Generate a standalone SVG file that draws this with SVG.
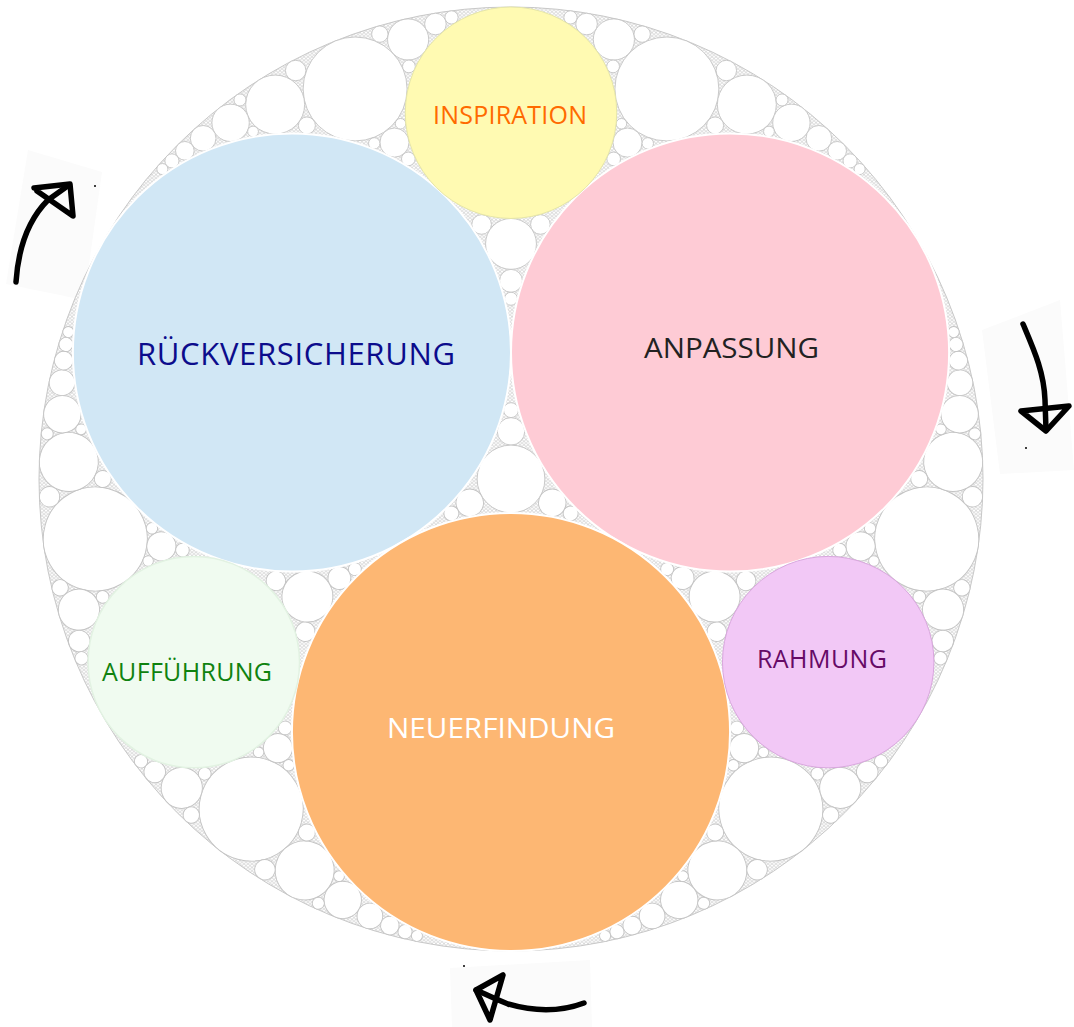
<svg xmlns="http://www.w3.org/2000/svg" xmlns:xlink="http://www.w3.org/1999/xlink" width="1074" height="1027" viewBox="0 0 1074 1027">
<style>
.g{fill:#fff;stroke:#c4c4c4;stroke-width:0.9}
.lbl{font-family:"Open Sans","Liberation Sans",sans-serif;text-anchor:middle}
.arr{fill:none;stroke:#000;stroke-width:5.5;stroke-linecap:round;stroke-linejoin:round}
.paper{fill:#fbfbfb}
</style>
<defs>
<pattern id="fine" patternUnits="userSpaceOnUse" width="4" height="3.464">
<rect width="4" height="3.464" fill="#e4e4e4"/>
<circle cx="0" cy="0" r="1.75" fill="#fff" stroke="#c2c2c2" stroke-width="0.45"/>
<circle cx="4" cy="0" r="1.75" fill="#fff" stroke="#c2c2c2" stroke-width="0.45"/>
<circle cx="2" cy="1.732" r="1.75" fill="#fff" stroke="#c2c2c2" stroke-width="0.45"/>
<circle cx="0" cy="3.464" r="1.75" fill="#fff" stroke="#c2c2c2" stroke-width="0.45"/>
<circle cx="4" cy="3.464" r="1.75" fill="#fff" stroke="#c2c2c2" stroke-width="0.45"/>
</pattern>
<g id="half">
<circle class="g" cx="666.90" cy="88.97" r="51.97"/>
<circle class="g" cx="613.88" cy="39.46" r="20.58"/>
<circle class="g" cx="746.84" cy="104.56" r="29.48"/>
<circle class="g" cx="627.53" cy="142.60" r="14.57"/>
<circle class="g" cx="586.57" cy="24.03" r="10.80"/>
<circle class="g" cx="613.09" cy="66.41" r="6.38"/>
<circle class="g" cx="642.16" cy="34.12" r="8.20"/>
<circle class="g" cx="570.47" cy="17.42" r="6.61"/>
<circle class="g" cx="791.41" cy="122.83" r="18.69"/>
<circle class="g" cx="715.12" cy="125.46" r="8.50"/>
<circle class="g" cx="726.32" cy="70.53" r="10.25"/>
<circle class="g" cx="818.86" cy="138.32" r="12.83"/>
<circle class="g" cx="782.04" cy="99.96" r="6.02"/>
<circle class="g" cx="837.15" cy="150.82" r="9.32"/>
<circle class="g" cx="850.07" cy="160.89" r="7.06"/>
<circle class="g" cx="613.67" cy="158.92" r="6.84"/>
<circle class="g" cx="768.96" cy="131.51" r="5.37"/>
<circle class="g" cx="859.63" cy="169.09" r="5.53"/>
<circle class="g" cx="647.78" cy="143.37" r="5.70"/>
<circle class="g" cx="621.44" cy="123.74" r="5.26"/>
<circle class="g" cx="540.39" cy="224.46" r="9.80"/>
</g>
<g id="sector">
<use xlink:href="#half"/>
<use xlink:href="#half" transform="translate(1022 0) scale(-1 1)"/>
<circle class="g" cx="511" cy="243.91" r="25.45"/>
<circle class="g" cx="511" cy="280.81" r="11.44"/>
<circle class="g" cx="511" cy="298.75" r="6.50"/>
<circle class="g" cx="511" cy="431.36" r="13.75"/>
<circle class="g" cx="511" cy="410.15" r="7.45"/>
</g>
</defs>

<g id="background">
<polygon class="paper" points="28,150 102,172 84,300 6,284"/>
<polygon class="paper" points="982,330 1060,300 1074,470 1000,474"/>
<polygon class="paper" points="450,968 590,960 592,1027 452,1027"/>
</g>

<g id="gasket">
<circle cx="511" cy="479" r="472" fill="url(#fine)" stroke="#c8c8c8" stroke-width="1"/>
<use xlink:href="#sector"/>
<use xlink:href="#sector" transform="rotate(120 511 479)"/>
<use xlink:href="#sector" transform="rotate(240 511 479)"/>
<circle class="g" cx="511" cy="479" r="33.89"/>
</g>

<g id="node-rueckversicherung">
<circle cx="291.94" cy="352.53" r="219.06" fill="#d1e7f5" stroke="#fff" stroke-width="2"/>
<text class="lbl" x="296" y="365" font-size="31" fill="#0c0c8c" textLength="318" lengthAdjust="spacing">RÜCKVERSICHERUNG</text>
</g>
<g id="node-anpassung">
<circle cx="730.06" cy="352.53" r="219.06" fill="#fecbd5" stroke="#fff" stroke-width="2"/>
<text class="lbl" x="731.5" y="357.7" font-size="27.5" fill="#222" textLength="175" lengthAdjust="spacingAndGlyphs">ANPASSUNG</text>
</g>
<g id="node-neuerfindung">
<circle cx="511" cy="731.94" r="219.06" fill="#fdb773" stroke="#fff" stroke-width="2"/>
<text class="lbl" x="501" y="737.7" font-size="27" fill="#fff" textLength="228" lengthAdjust="spacingAndGlyphs">NEUERFINDUNG</text>
</g>
<g id="node-inspiration">
<circle cx="511" cy="112.73" r="105.73" fill="#fffab2" stroke="#e6e6a8" stroke-width="1"/>
<text class="lbl" x="510" y="124" font-size="25" fill="#ff6a00" textLength="154" lengthAdjust="spacing">INSPIRATION</text>
</g>
<g id="node-auffuehrung">
<circle cx="193.8" cy="662.14" r="105.73" fill="#f0fbf0" stroke="#e2f2e2" stroke-width="1.5"/>
<text class="lbl" x="187" y="680.7" font-size="25" fill="#0f820f" textLength="170" lengthAdjust="spacing">AUFFÜHRUNG</text>
</g>
<g id="node-rahmung">
<circle cx="828.2" cy="662.14" r="105.73" fill="#f2c8f6" stroke="#d9a6de" stroke-width="1"/>
<text class="lbl" x="822" y="667.7" font-size="25" fill="#660a66" textLength="130" lengthAdjust="spacing">RAHMUNG</text>
</g>

<g id="connectors">
<path class="arr" d="M16,282 C18,252 26,222 48,200 L69,185"/>
<path class="arr" d="M34,188 L70,184 L73,216 L37,191"/>
<path class="arr" d="M1023,324 C1034,350 1044,372 1045,400 L1046,430"/>
<path class="arr" d="M1021,411 L1069,406 L1046,431 Z"/>
<path class="arr" d="M584,1003 C560,1012 535,1012 508,1004 C495,999 485,994 476,990"/>
<path class="arr" d="M476,990 L503,975 L490,1020 Z"/>
<circle cx="95" cy="186" r="1" fill="#000"/>
<circle cx="1026" cy="448" r="1" fill="#000"/>
<circle cx="464" cy="966" r="1" fill="#000"/>
</g>
</svg>
